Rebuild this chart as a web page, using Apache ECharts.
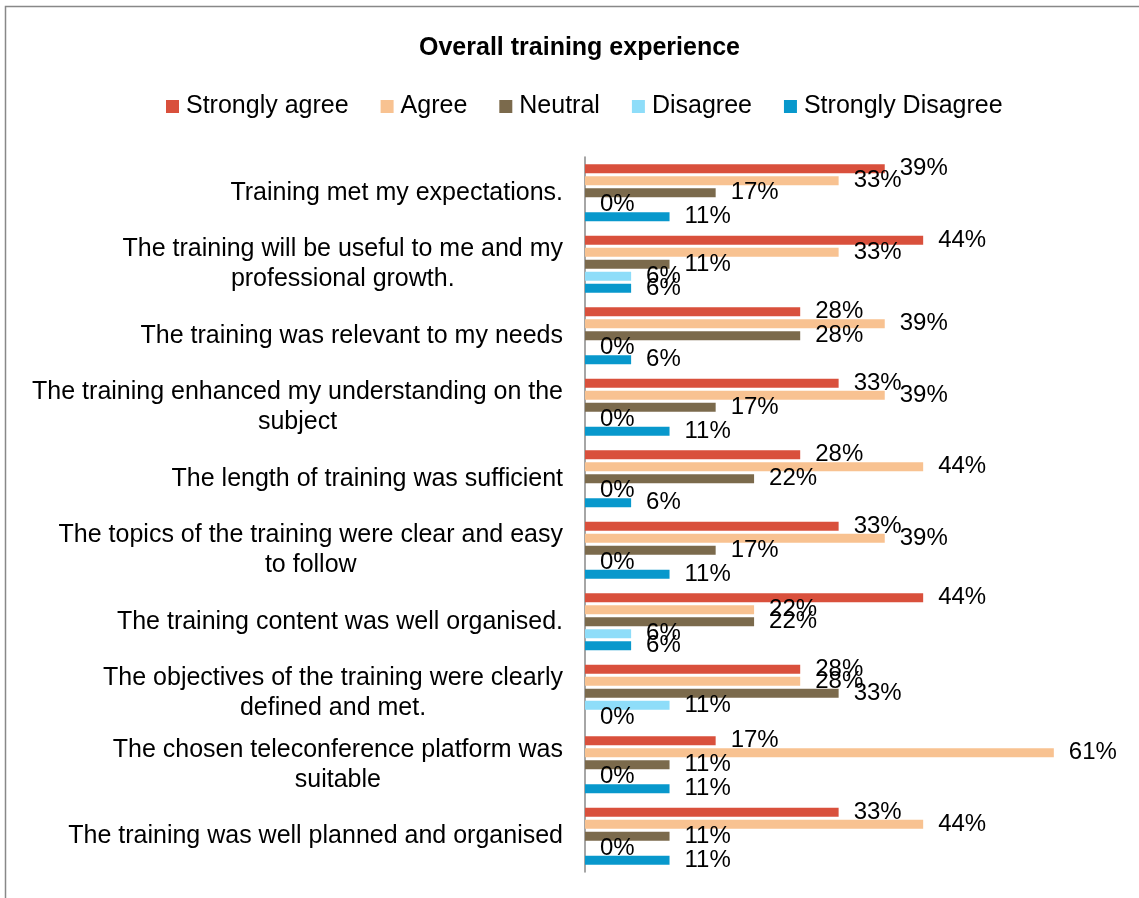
<!DOCTYPE html>
<html>
<head>
<meta charset="utf-8">
<script src="https://cdn.jsdelivr.net/npm/echarts@6/dist/echarts.min.js"></script>
<style>
  html, body { margin: 0; padding: 0; background: #fff; }
  #chart { width: 1139px; height: 898px; }
</style>
</head>
<body>
<div id="chart"></div>
<script>
// categories, top to bottom
const categories = [
  'Training met my expectations.',
  'The training will be useful to me and my\nprofessional growth.',
  'The training was relevant to my needs',
  'The training enhanced my understanding on the\nsubject',
  'The length of training was sufficient',
  'The topics of the training were clear and easy\nto follow',
  'The training content was well organised.',
  'The objectives of the training were clearly\ndefined and met.',
  'The chosen teleconference platform was\nsuitable',
  'The training was well planned and organised'
];

const seriesNames = ['Strongly agree', 'Agree', 'Neutral', 'Disagree', 'Strongly Disagree'];

// percent values per series
const stronglyAgree    = [39, 44, 28, 33, 28, 33, 44, 28, 17, 33];
const agree            = [33, 33, 39, 39, 44, 39, 22, 28, 61, 44];
const neutral          = [17, 11, 28, 17, 22, 17, 22, 33, 11, 11];
const disagree         = [0, 6, 0, 0, 0, 0, 6, 11, 0, 0];
const stronglyDisagree = [11, 6, 6, 11, 6, 11, 6, 0, 11, 11];

const colors = ['#D9503C', '#F8C291', '#7B6A4C', '#8EDDF9', '#0898CC'];

const font = '"Liberation Sans", Arial, sans-serif';

const chart = echarts.init(document.getElementById('chart'));

const makeSeries = (name, data, i) => ({
  name: name,
  type: 'bar',
  data: data,
  barWidth: 9,
  barGap: '33%',
  itemStyle: { color: colors[i] },
  label: {
    show: true,
    position: 'right',
    distance: 15,
    formatter: '{c}%',
    color: '#000',
    fontSize: 24,
    fontFamily: font
  }
});

chart.setOption({
  animation: false,
  color: colors,
  title: {
    text: 'Overall training experience',
    left: 414,
    top: 31,
    textStyle: { fontSize: 25, fontWeight: 'bold', color: '#000', fontFamily: font }
  },
  legend: {
    top: 89,
    left: 161,
    icon: 'rect',
    itemWidth: 13,
    itemHeight: 13,
    itemGap: 32,
    textStyle: { fontSize: 25, color: '#000', fontFamily: font, padding: [0, 0, 0, 2] }
  },
  grid: { left: 585, right: 16, top: 157, bottom: 26 },
  xAxis: {
    type: 'value',
    min: 0,
    max: 70,
    show: false
  },
  yAxis: {
    type: 'category',
    inverse: true,
    data: categories,
    axisLine: { show: true, lineStyle: { color: '#888', width: 1.5 } },
    axisTick: { show: false },
    axisLabel: {
      margin: 22,
      align: 'right',
      formatter: v => v.split('\n').map(l => '{c|' + l + '}').join('\n'),
      rich: {
        c: { align: 'center', fontSize: 25, lineHeight: 30, color: '#000', fontFamily: font }
      }
    }
  },
  graphic: [{
    type: 'rect',
    shape: { x: 5.5, y: 6.5, width: 1160, height: 920 },
    style: { fill: 'none', stroke: '#888', lineWidth: 1.5 },
    silent: true
  }],
  series: [
    makeSeries(seriesNames[0], stronglyAgree, 0),
    makeSeries(seriesNames[1], agree, 1),
    makeSeries(seriesNames[2], neutral, 2),
    makeSeries(seriesNames[3], disagree, 3),
    makeSeries(seriesNames[4], stronglyDisagree, 4)
  ]
});
</script>
</body>
</html>
